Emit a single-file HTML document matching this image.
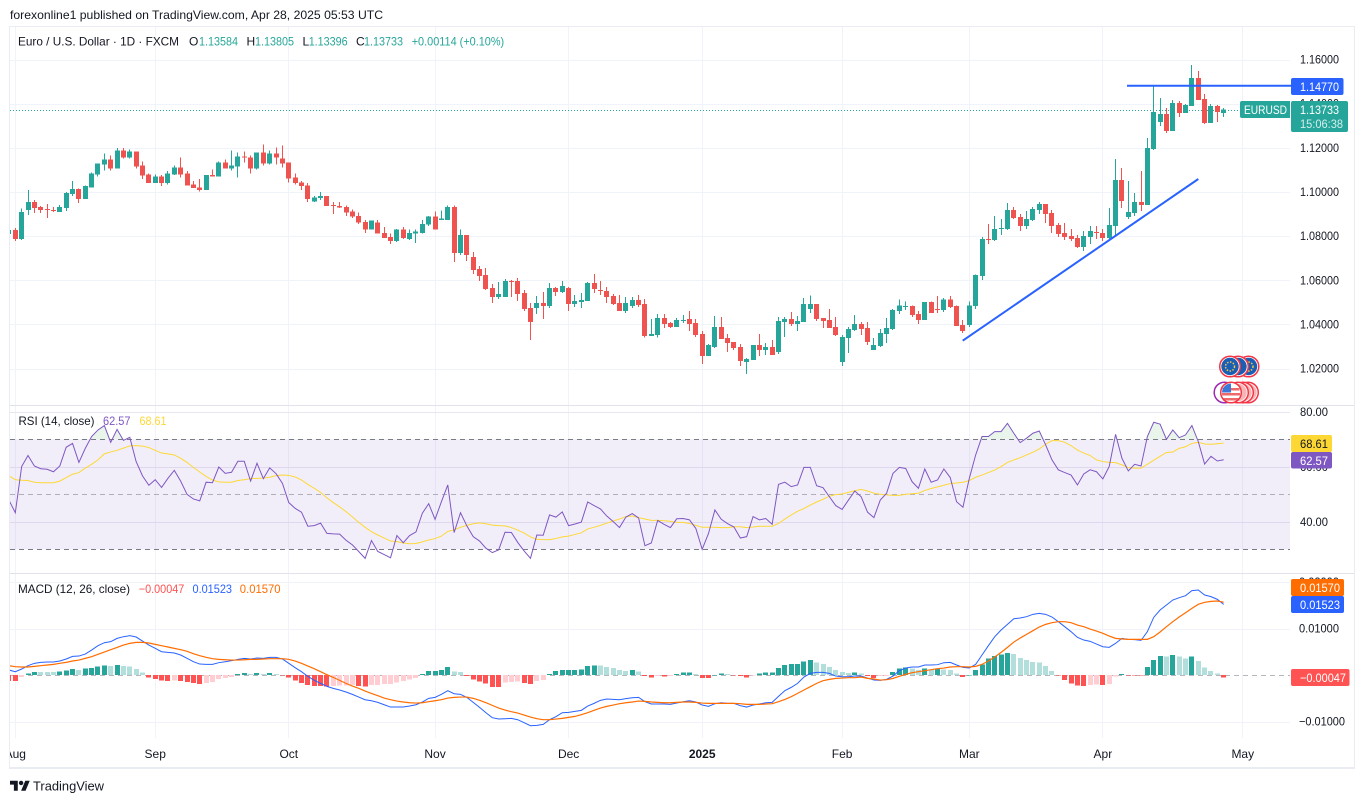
<!DOCTYPE html>
<html lang="en">
<head>
<meta charset="utf-8">
<title>EUR/USD chart</title>
<style>
html,body{margin:0;padding:0;background:#fff;width:1364px;height:803px;overflow:hidden}
svg{display:block;font-family:"Liberation Sans",sans-serif}
text{font-size:12px;fill:#131722}
</style>
</head>
<body>
<svg id="chart" width="1364" height="803" viewBox="0 0 1364 803" xmlns="http://www.w3.org/2000/svg">
  <defs>
    <clipPath id="plot-clip"><rect x="10" y="27" width="1280" height="712"/></clipPath>
    <clipPath id="time-clip"><rect x="10" y="740" width="1344" height="27"/></clipPath>
    <clipPath id="over-clip"><rect x="10" y="406" width="1280" height="33.3"/></clipPath>
  </defs>
  <rect x="0" y="0" width="1364" height="803" fill="#ffffff"/>
  <text x="10" y="19" textLength="373" lengthAdjust="spacingAndGlyphs">forexonline1 published on TradingView.com, Apr 28, 2025 05:53 UTC</text>
  <g id="grid-layer"></g>
  <rect x="10" y="439.3" width="1280" height="110" fill="#7e57c2" fill-opacity="0.1"/>
  <g id="mark-layer" clip-path="url(#plot-clip)"></g>
  <line x1="1127" y1="85.8" x2="1291" y2="85.8" stroke="#2962ff" stroke-width="2"/>
  <line x1="962.7" y1="340.7" x2="1198.3" y2="179" stroke="#2962ff" stroke-width="2"/>
  <g id="frame-layer" shape-rendering="crispEdges">
    <rect x="9" y="26" width="1346" height="1" fill="#e9ecf2"/>
    <rect x="9" y="26" width="1" height="743" fill="#e9ecf2"/>
    <rect x="1354" y="26" width="1" height="743" fill="#e9ecf2"/>
    <rect x="9" y="767" width="1346" height="2" fill="#e9ecf2"/>
    <rect x="10" y="405" width="1344" height="1" fill="#e0e3eb"/>
    <rect x="10" y="573" width="1344" height="1" fill="#e0e3eb"/>
  </g>
  <g id="axis-layer"></g>

  <g>
    <text x="18" y="45.500" textLength="161" lengthAdjust="spacingAndGlyphs">Euro / U.S. Dollar · 1D · FXCM</text>
    <text x="189" y="45.500">O</text>
    <text x="199" y="45.500" textLength="39" lengthAdjust="spacingAndGlyphs" style="fill:#26a69a">1.13584</text>
    <text x="246.500" y="45.500">H</text>
    <text x="255" y="45.500" textLength="39" lengthAdjust="spacingAndGlyphs" style="fill:#26a69a">1.13805</text>
    <text x="302.500" y="45.500">L</text>
    <text x="308.700" y="45.500" textLength="39" lengthAdjust="spacingAndGlyphs" style="fill:#26a69a">1.13396</text>
    <text x="356" y="45.500">C</text>
    <text x="364" y="45.500" textLength="39" lengthAdjust="spacingAndGlyphs" style="fill:#26a69a">1.13733</text>
    <text x="411.700" y="45.500" textLength="92.500" lengthAdjust="spacingAndGlyphs" style="fill:#26a69a">+0.00114 (+0.10%)</text>
  </g>
  <g>
    <text x="18.500" y="425" textLength="76" lengthAdjust="spacingAndGlyphs">RSI (14, close)</text>
    <text x="103" y="425" textLength="27.500" lengthAdjust="spacingAndGlyphs" style="fill:#7e57c2">62.57</text>
    <text x="139.500" y="425" textLength="27" lengthAdjust="spacingAndGlyphs" style="fill:#fdd835">68.61</text>
  </g>
  <g>
    <text x="18" y="593" textLength="112" lengthAdjust="spacingAndGlyphs">MACD (12, 26, close)</text>
    <text x="138.800" y="593" textLength="45.500" lengthAdjust="spacingAndGlyphs" style="fill:#ff5252">−0.00047</text>
    <text x="192.500" y="593" textLength="39.500" lengthAdjust="spacingAndGlyphs" style="fill:#2962ff">0.01523</text>
    <text x="239.800" y="593" textLength="40.800" lengthAdjust="spacingAndGlyphs" style="fill:#ff6d00">0.01570</text>
  </g>

  <g>
    <rect x="1291" y="78" width="52.500" height="17" rx="2" fill="#2962ff"/>
    <text x="1300" y="91" textLength="39" lengthAdjust="spacingAndGlyphs" style="fill:#fff">1.14770</text>
    <path d="M1242 101H1290V118H1242a2 2 0 0 1-2-2V103a2 2 0 0 1 2-2z" fill="#26a69a"/>
    <text x="1244" y="114" textLength="43" lengthAdjust="spacingAndGlyphs" style="fill:#fff">EURUSD</text>
    <rect x="1291" y="101" width="57" height="31" rx="2" fill="#26a69a"/>
    <text x="1300" y="114" textLength="39" lengthAdjust="spacingAndGlyphs" style="fill:#fff">1.13733</text>
    <text x="1300" y="128" textLength="43" lengthAdjust="spacingAndGlyphs" style="fill:#d4eeeb">15:06:38</text>
    <rect x="1291" y="435" width="41" height="17" rx="2" fill="#fdd835"/>
    <text x="1300" y="448" textLength="28" lengthAdjust="spacingAndGlyphs">68.61</text>
    <rect x="1291" y="452" width="41" height="16.500" rx="2" fill="#7e57c2"/>
    <text x="1300" y="465" textLength="28" lengthAdjust="spacingAndGlyphs" style="fill:#fff">62.57</text>
    <rect x="1291" y="579" width="53" height="17" rx="2" fill="#ff6d00"/>
    <text x="1300" y="592" textLength="40" lengthAdjust="spacingAndGlyphs" style="fill:#fff">0.01570</text>
    <rect x="1291" y="596" width="53" height="17" rx="2" fill="#2962ff"/>
    <text x="1300" y="609" textLength="40" lengthAdjust="spacingAndGlyphs" style="fill:#fff">0.01523</text>
    <rect x="1291" y="669" width="58.500" height="17" rx="2" fill="#ff5252"/>
    <text x="1300" y="682" textLength="46" lengthAdjust="spacingAndGlyphs" style="fill:#fff">−0.00047</text>
  </g>

  <g>
    <g><circle cx="1248.500" cy="366.500" r="9.700" fill="#1a5fb4" stroke="#fff" stroke-width="2"/><circle cx="1248.500" cy="366.500" r="10.300" fill="none" stroke="#f23645" stroke-width="1.500"/><circle cx="1248.500" cy="366.500" r="4.500" fill="none" stroke="#f6c445" stroke-width="1.500" stroke-dasharray="1.500 1.500"/></g>
    <g><circle cx="1238" cy="366.500" r="9.700" fill="#1a5fb4" stroke="#fff" stroke-width="2"/><circle cx="1238" cy="366.500" r="10.300" fill="none" stroke="#f23645" stroke-width="1.500"/></g>
    <g><circle cx="1230" cy="366.500" r="9.700" fill="#1a5fb4" stroke="#fff" stroke-width="2"/><circle cx="1230" cy="366.500" r="10.300" fill="none" stroke="#f23645" stroke-width="1.500"/><circle cx="1230" cy="366.500" r="4.500" fill="none" stroke="#f6c445" stroke-width="1.500" stroke-dasharray="1.500 1.500"/></g>
  </g>
  <g>
    <g><circle cx="1248" cy="392.500" r="9.700" fill="#f7b5b5" stroke="#fff" stroke-width="2"/><circle cx="1248" cy="392.500" r="10.300" fill="none" stroke="#f23645" stroke-width="1.500"/></g>
    <g><circle cx="1243" cy="392.500" r="9.700" fill="#f7b5b5" stroke="#fff" stroke-width="2"/><circle cx="1243" cy="392.500" r="10.300" fill="none" stroke="#f23645" stroke-width="1.500"/></g>
    <g><circle cx="1238" cy="392.500" r="9.700" fill="#f7b5b5" stroke="#fff" stroke-width="2"/><circle cx="1238" cy="392.500" r="10.300" fill="none" stroke="#f23645" stroke-width="1.500"/></g>
    <g><circle cx="1224.500" cy="392.500" r="10.300" fill="#fff" stroke="#9c27b0" stroke-width="1.500"/></g>
    <g>
      <circle cx="1231" cy="392.500" r="9.700" fill="#fff" stroke="#fff" stroke-width="2"/>
      <rect x="1222.500" y="388" width="17" height="2.500" fill="#ee6a6a"/>
      <rect x="1222" y="393" width="18" height="2.500" fill="#ee6a6a"/>
      <rect x="1223" y="398" width="16" height="2.500" fill="#ee6a6a"/>
      <path d="M1222 392.500a9 9 0 0 1 9-9v9z" fill="#3b78d8"/>
      <circle cx="1231" cy="392.500" r="10.300" fill="none" stroke="#f23645" stroke-width="1.500"/>
    </g>
  </g>

  <svg x="10" y="778.500" width="20" height="15.600" viewBox="0 0 36 28"><path d="M14 22H7V11H0V4h14v18zM28 22h-8l7.500-18h8L28 22z" fill="#131722"/><circle cx="20" cy="8" r="4" fill="#131722"/></svg>
  <text x="33" y="790.500" textLength="71" lengthAdjust="spacingAndGlyphs" style="font-size:13px">TradingView</text>
</svg>
<script>
// ---- data ----
const timeLabels = ['Aug','Sep','Oct','Nov','Dec','2025','Feb','Mar','Apr','May'];
const timeBars = [1,23,44,67,88,109,131,151,172,194];
const priceTicks = [1.16,1.14,1.12,1.10,1.08,1.06,1.04,1.02];
const rsiTicks = [80,60,40];
const rsiLevels = [70,50,30];
const macdTicks = [0.02,0.01,-0.01];
const lastClose = 1.13733;

const opens = [1.0810,1.0828,1.0788,1.0918,1.0954,1.0932,1.0923,1.0918,1.0909,1.0927,1.0990,1.1013,1.0968,1.1021,1.1080,1.1125,1.1148,1.1107,1.1188,1.1156,1.1183,1.1120,1.1080,1.1040,1.1071,1.1040,1.1080,1.1112,1.1084,1.1035,1.1021,1.1008,1.1076,1.1071,1.1134,1.1107,1.1116,1.1161,1.1156,1.1107,1.1179,1.1130,1.1175,1.1152,1.1134,1.1066,1.1044,1.1030,1.0958,1.0972,1.0981,1.0940,1.0936,
1.0933,1.0911,1.0892,1.0865,1.0829,1.0861,1.0815,1.0797,1.0779,1.0829,1.0788,1.0811,1.0815,1.0852,1.0888,1.0874,1.0874,1.0933,1.0724,1.0806,1.0706,1.0652,1.0624,1.0565,1.0524,1.0524,1.0597,1.0597,1.0542,1.0474,1.0474,1.0497,1.0483,1.0565,1.0547,1.0565,1.0492,1.0502,1.0506,1.0588,1.0556,1.0552,1.0529,1.0497,1.0461,1.0483,1.0511,1.0492,1.0347,1.0352,1.0429,1.0406,1.0388,
1.0415,1.0424,1.0406,1.0356,1.0257,1.0298,1.0388,1.0338,1.0320,1.0298,1.0230,1.0239,1.0307,1.0284,1.0298,1.0275,1.0411,1.0424,1.0402,1.0411,1.0469,1.0492,1.0429,1.0420,1.0388,1.0230,1.0338,1.0374,1.0402,1.0384,1.0284,1.0302,1.0356,1.0379,1.0460,1.0478,1.0483,1.0447,1.0420,1.0501,1.0469,1.0465,1.0514,1.0483,1.0397,1.0397,1.0483,
1.0619,1.0787,1.0782,1.0832,1.0832,1.0918,1.0886,1.0845,1.0873,1.0918,1.0945,1.0904,1.0850,1.0814,1.0800,1.0791,1.0750,1.0796,1.0818,1.0814,1.0791,1.0845,1.1054,1.0886,1.0904,1.0954,1.0940,1.1194,1.1317,1.1353,1.1276,1.1403,1.1357,1.1389,1.1516,1.1421,1.1312,1.1389,1.13584];
const highs = [1.0828,1.0836,1.0926,1.1008,1.0963,1.0936,1.0945,1.0932,1.0941,1.0999,1.1049,1.1015,1.1030,1.1089,1.1130,1.1175,1.1165,1.1200,1.1200,1.1192,1.1183,1.1138,1.1084,1.1080,1.1076,1.1094,1.1120,1.1156,1.1094,1.1049,1.1058,1.1076,1.1102,1.1137,1.1148,1.1188,1.1179,1.1183,1.1165,1.1179,1.1215,1.1188,1.1201,1.1210,1.1134,1.1084,1.1049,1.1040,1.0981,1.0999,1.0981,1.0954,1.0954,
1.0938,1.0920,1.0906,1.0874,1.0870,1.0874,1.0842,1.0811,1.0833,1.0842,1.0829,1.0829,1.0874,1.0892,1.0911,1.0915,1.0938,1.0938,1.0829,1.0806,1.0729,1.0665,1.0656,1.0583,1.0592,1.0606,1.0602,1.0611,1.0556,1.0497,1.0529,1.0547,1.0588,1.0570,1.0597,1.0570,1.0533,1.0542,1.0592,1.0629,1.0597,1.0570,1.0538,1.0533,1.0524,1.0524,1.0533,1.0515,1.0424,1.0447,1.0447,1.0411,1.0429,
1.0442,1.0460,1.0424,1.0370,1.0311,1.0438,1.0433,1.0356,1.0320,1.0311,1.0248,1.0307,1.0356,1.0316,1.0329,1.0433,1.0433,1.0456,1.0438,1.0519,1.0532,1.0492,1.0429,1.0469,1.0433,1.0352,1.0388,1.0442,1.0411,1.0411,1.0338,1.0379,1.0429,1.0469,1.0514,1.0505,1.0487,1.0460,1.0501,1.0505,1.0528,1.0519,1.0528,1.0487,1.0420,1.0505,1.0627,
1.0796,1.0854,1.0891,1.0877,1.0950,1.0931,1.0900,1.0913,1.0931,1.0954,1.0945,1.0918,1.0859,1.0859,1.0832,1.0805,1.0823,1.0845,1.0845,1.0832,1.0927,1.1149,1.1108,1.1049,1.0995,1.1095,1.1244,1.1480,1.1425,1.1380,1.1416,1.1412,1.1398,1.1575,1.1548,1.1443,1.1398,1.1393,1.13805];
const lows = [1.0810,1.0779,1.0783,1.0896,1.0905,1.0905,1.0882,1.0909,1.0909,1.0914,1.0981,1.0950,1.0968,1.1021,1.1071,1.1098,1.1098,1.1107,1.1152,1.1152,1.1107,1.1058,1.1040,1.1040,1.1026,1.1035,1.1076,1.1066,1.1030,1.1017,1.1003,1.1008,1.1071,1.1071,1.1107,1.1098,1.1066,1.1134,1.1084,1.1102,1.1120,1.1125,1.1125,1.1112,1.1044,1.1035,1.1008,1.0954,1.0954,1.0963,1.0936,1.0900,1.0927,
1.0892,1.0883,1.0856,1.0815,1.0829,1.0811,1.0792,1.0765,1.0774,1.0788,1.0783,1.0770,1.0811,1.0847,1.0829,1.0874,1.0874,1.0683,1.0715,1.0688,1.0629,1.0597,1.0556,1.0497,1.0515,1.0524,1.0524,1.0506,1.0461,1.0329,1.0447,1.0424,1.0474,1.0529,1.0542,1.0461,1.0479,1.0474,1.0506,1.0542,1.0533,1.0497,1.0488,1.0461,1.0452,1.0474,1.0479,1.0342,1.0347,1.0342,1.0383,1.0383,1.0388,
1.0406,1.0370,1.0343,1.0221,1.0257,1.0293,1.0334,1.0275,1.0284,1.0212,1.0176,1.0239,1.0257,1.0262,1.0262,1.0266,1.0343,1.0393,1.0370,1.0411,1.0451,1.0415,1.0384,1.0384,1.0347,1.0212,1.0271,1.0370,1.0352,1.0307,1.0284,1.0298,1.0316,1.0374,1.0447,1.0465,1.0433,1.0402,1.0420,1.0451,1.0451,1.0456,1.0474,1.0393,1.0361,1.0388,1.0469,
1.0601,1.0764,1.0777,1.0805,1.0827,1.0877,1.0823,1.0832,1.0868,1.0900,1.0859,1.0814,1.0796,1.0782,1.0777,1.0746,1.0732,1.0764,1.0787,1.0777,1.0787,1.0805,1.0927,1.0877,1.0891,1.0913,1.0940,1.1190,1.1298,1.1267,1.1276,1.1339,1.1357,1.1389,1.1416,1.1307,1.1312,1.1316,1.13396];
const closes = [1.0828,1.0788,1.0909,1.0954,1.0927,1.0918,1.0920,1.0914,1.0932,1.0995,1.1013,1.0968,1.1026,1.1084,1.1130,1.1148,1.1107,1.1188,1.1156,1.1183,1.1116,1.1075,1.1040,1.1071,1.1040,1.1084,1.1112,1.1080,1.1030,1.1017,1.1008,1.1076,1.1071,1.1134,1.1107,1.1120,1.1161,1.1156,1.1107,1.1179,1.1130,1.1175,1.1156,1.1130,1.1062,1.1040,1.1026,1.0968,1.0976,1.0981,1.0936,1.0936,1.0930,
1.0906,1.0888,1.0861,1.0829,1.0870,1.0811,1.0792,1.0779,1.0829,1.0792,1.0815,1.0820,1.0856,1.0888,1.0829,1.0879,1.0933,1.0724,1.0806,1.0715,1.0647,1.0620,1.0561,1.0524,1.0538,1.0597,1.0592,1.0538,1.0470,1.0411,1.0497,1.0483,1.0565,1.0547,1.0574,1.0492,1.0506,1.0511,1.0588,1.0561,1.0552,1.0524,1.0492,1.0461,1.0497,1.0511,1.0488,1.0347,1.0356,1.0429,1.0402,1.0388,1.0420,
1.0420,1.0402,1.0352,1.0257,1.0307,1.0388,1.0334,1.0316,1.0293,1.0234,1.0244,1.0307,1.0284,1.0298,1.0262,1.0415,1.0424,1.0402,1.0415,1.0492,1.0492,1.0424,1.0415,1.0384,1.0352,1.0343,1.0379,1.0402,1.0379,1.0320,1.0307,1.0361,1.0384,1.0465,1.0487,1.0483,1.0442,1.0420,1.0501,1.0451,1.0465,1.0514,1.0478,1.0393,1.0370,1.0487,1.0623,
1.0787,1.0782,1.0832,1.0836,1.0918,1.0882,1.0845,1.0877,1.0922,1.0945,1.0900,1.0845,1.0809,1.0796,1.0787,1.0750,1.0800,1.0823,1.0814,1.0791,1.0850,1.1054,1.0959,1.0909,1.0954,1.0940,1.1199,1.1362,1.1353,1.1276,1.1403,1.1357,1.1393,1.1516,1.1416,1.1312,1.1389,1.1362,1.13733];

const rsiValues = [47.9,43.3,60.1,64.1,60.3,59.3,59.1,58.2,60.3,67.1,68.5,61.6,66.7,71.0,73.4,75.0,68.9,73.6,69.6,70.7,61.9,56.7,53.3,55.3,52.5,55.8,58.7,54.8,50.0,48.3,47.6,54.4,54.2,59.9,57.6,58.0,62.0,62.0,54.8,61.3,55.7,59.6,57.5,54.0,47.0,44.9,43.5,38.4,38.6,39.5,35.8,35.6,35.5,33.3,31.6,29.2,26.7,33.2,29.2,28.1,26.9,35.0,32.4,35.0,36.3,43.1,46.6,40.9,47.3,53.4,36.1,43.3,38.5,34.6,33.0,30.4,28.8,29.8,36.2,36.1,32.5,29.4,26.7,35.2,35.1,42.5,41.7,43.6,38.6,39.2,39.9,47.2,45.9,44.7,42.1,40.1,37.9,41.7,43.0,41.4,31.3,32.3,40.5,39.1,37.9,41.1,
41.2,40.7,37.6,30.0,35.8,44.3,40.9,39.3,38.1,34.1,34.6,41.9,40.7,41.2,39.1,53.6,54.4,52.8,53.4,59.8,59.8,53.1,52.4,49.1,45.9,44.5,47.9,51.2,49.1,43.5,41.5,47.9,50.4,57.6,59.8,59.4,54.6,52.2,59.2,54.4,55.2,59.2,56.1,47.3,45.3,55.8,64.3,71.0,71.0,72.8,72.8,75.8,72.2,68.8,70.4,72.2,73.0,68.0,62.5,58.9,57.9,57.0,53.4,57.4,58.9,58.2,55.6,60.1,71.8,63.1,58.5,60.9,60.3,71.0,76.2,75.5,70.0,73.4,70.6,71.6,75.0,69.2,61.0,63.8,62.1,62.57];
const rsiMaValues = [56.7,55.3,55.1,55.0,54.4,54.2,54.2,54.2,54.8,56.1,57.3,57.9,59.5,60.9,62.5,64.7,65.4,66.0,66.8,67.6,67.7,67.5,67.0,66.0,65.0,64.7,64.3,63.1,61.6,59.8,58.1,56.5,55.2,54.5,54.4,54.4,55.0,55.3,55.7,55.8,55.9,56.2,56.8,57.0,56.9,56.3,55.2,53.6,52.2,50.7,48.7,47.0,45.4,43.7,41.8,39.8,38.0,36.4,35.2,34.1,33.0,32.8,32.3,32.0,32.1,32.7,33.4,33.9,34.8,36.5,37.1,38.0,38.7,39.3,39.6,39.3,38.8,38.6,38.5,37.9,37.0,35.9,34.5,33.6,33.5,33.5,33.9,34.5,34.8,35.4,36.0,37.4,38.0,38.7,39.5,40.3,41.0,41.9,42.1,41.5,41.0,40.5,40.5,40.4,40.2,39.8,
39.8,39.4,38.7,38.0,38.0,38.0,37.9,37.9,38.2,38.2,37.9,38.1,38.4,38.4,38.4,39.4,41.0,42.5,43.8,44.8,46.1,47.2,48.2,49.3,49.9,50.1,50.7,51.3,51.8,51.2,50.4,50.0,49.8,49.6,49.6,50.0,50.2,50.4,51.4,52.1,52.7,53.3,53.9,54.1,54.4,55.0,56.2,57.0,57.9,58.8,60.1,61.6,62.5,63.3,64.3,65.3,66.5,68.2,69.5,69.5,68.9,67.7,66.1,65.0,64.1,62.5,61.9,61.6,61.5,60.7,59.7,59.5,59.5,60.9,62.4,63.8,65.2,65.4,66.7,67.3,68.5,68.9,68.3,68.2,68.4,68.61];

// MACD series are in FX points (1 point = 0.00001)
const macdLine = [111,75,133,204,255,276,283,283,305,348,405,412,455,541,635,699,721,792,828,850,821,735,649,577,505,491,477,434,362,290,240,233,233,269,290,312,341,362,348,369,362,384,384,348,255,161,75,-25,-111,-176,-240,-283,-319,-362,-412,-470,-527,-549,-584,-635,-685,-685,-685,-663,-635,-577,-498,-477,-412,-333,-398,-412,-477,-584,-692,-807,-914,-943,-936,-929,-957,-1022,-1086,-1079,-1058,-957,-893,-807,-799,-778,-756,-663,-606,-541,-513,-520,-527,-505,-484,-477,-570,-620,-620,-620,-627,-599,
-570,-549,-577,-642,-670,-613,-592,-606,-606,-656,-685,-642,-620,-592,-584,-455,-333,-262,-176,-39,39,61,61,39,-18,-32,-32,-18,-18,-61,-104,-111,-90,-18,97,154,176,176,219,219,226,269,276,219,168,154,233,434,635,828,972,1093,1215,1230,1258,1309,1330,1309,1251,1151,1043,936,814,756,728,670,613,599,685,792,771,764,749,936,1244,1402,1509,1617,1667,1710,1818,1832,1724,1689,1631,1523];
const signalLine = [204,183,176,176,190,204,219,233,255,276,305,326,362,398,448,498,549,598,649,685,706,706,692,663,635,606,577,549,513,462,419,384,355,341,333,326,326,333,341,341,348,355,355,355,341,305,255,197,140,75,11,-47,-111,-176,-233,-283,-341,-391,-441,-491,-527,-556,-577,-592,-599,-592,-570,-549,-527,-491,-477,-470,-470,-498,-541,-592,-649,-706,-749,-785,-814,-857,-900,-936,-957,-957,-943,-929,-907,-886,-850,-807,-756,-706,-670,-642,-613,-592,-577,-556,-563,-577,-584,-592,-592,-584,
-577,-577,-584,-599,-606,-606,-606,-606,-606,-613,-627,-627,-627,-620,-613,-570,-520,-462,-391,-319,-247,-176,-118,-90,-68,-61,-54,-54,-39,-68,-82,-104,-97,-68,-25,18,54,75,97,118,140,154,176,183,183,176,190,233,305,391,491,599,713,799,878,957,1036,1093,1129,1151,1151,1129,1079,1043,993,950,900,842,792,778,771,771,771,771,828,929,1043,1151,1251,1344,1438,1524,1567,1588,1595,1570];
const histValues = [-129,-129,-43,36,72,72,70,68,79,100,129,115,143,158,186,208,194,215,194,190,129,57,-50,-86,-115,-122,-115,-122,-143,-172,-186,-172,-143,-79,-65,-36,29,50,29,50,29,50,22,-3,-50,-115,-165,-215,-229,-237,-244,-237,-222,-220,-215,-237,-239,-215,-208,-194,-186,-158,-129,-93,-65,22,93,95,108,179,79,72,-14,-93,-136,-179,-251,-253,-158,-143,-136,-172,-186,-129,-100,29,93,108,111,113,122,194,208,204,172,151,108,93,115,79,-14,-50,-22,-29,-22,22,
57,60,22,-57,-60,7,36,29,-7,-22,-50,-7,36,57,60,158,215,237,244,294,323,272,244,179,108,65,50,57,36,-14,-57,-22,-18,72,143,165,143,108,143,122,143,122,115,36,-36,0,115,229,358,409,445,480,452,366,323,287,272,201,86,-4,-100,-179,-225,-232,-208,-204,-215,-186,-29,29,-7,-8,-9,172,330,409,402,437,402,358,402,308,165,93,36,-47];

// ---- axis functions ----
const SVG_NS = 'http://www.w3.org/2000/svg';
const xOf = i => 15.3 + (i - 1) * 6.36;
const yPrice = p => 59.5 + (1.16 - p) * 2208;
const yRsi = v => 549.3 - (v - 30) * 2.75;
const yMacd = v => 675.2 - v * 4650;
const yPoints = v => yMacd(v / 100000);

const gridLayer = document.getElementById('grid-layer');
const markLayer = document.getElementById('mark-layer');
const axisLayer = document.getElementById('axis-layer');

function make(tag, parent, attrs) {
  const el = document.createElementNS(SVG_NS, tag);
  for (const k in attrs) el.setAttribute(k, attrs[k]);
  parent.appendChild(el);
  return el;
}
function pointsOf(values, yFn) {
  return values.map((v, i) => xOf(i).toFixed(2) + ',' + yFn(v).toFixed(2)).join(' ');
}
function fmtMacd(v) {
  return (v < 0 ? '\u2212' : '') + Math.abs(v).toFixed(5);
}

// vertical grid and time labels
const timeClip = make('g', axisLayer, {'clip-path': 'url(#time-clip)'});


timeBars.forEach((bar, k) => {
  const x = Math.floor(xOf(bar)) + 0.5;
  const line = make('line', gridLayer, {x1: x, x2: x, y1: 27, y2: 738, stroke: '#f0f3fa', 'shape-rendering': 'crispEdges'});
  
  
  const t = make('text', timeClip, {x: xOf(bar), y: 758, 'text-anchor': 'middle'});
  t.textContent = timeLabels[k];
  if (timeLabels[k] === '2025') t.setAttribute('font-weight', 'bold');
  
  
});

// price axis
priceTicks.forEach(p => {
  const y = Math.round(yPrice(p)) + 0.5;
  const line = make('line', gridLayer, {x1: 10, x2: 1290, y1: y, y2: y, stroke: '#f0f3fa', 'shape-rendering': 'crispEdges'});
  
  
  const t = make('text', axisLayer, {x: 1300, y: yPrice(p) + 4, textLength: 39, lengthAdjust: 'spacingAndGlyphs'});
  t.textContent = p.toFixed(5);
  
  
});

// RSI axis
rsiTicks.forEach(v => {
  const y = Math.round(yRsi(v)) + 0.5;
  const line = make('line', gridLayer, {x1: 10, x2: 1290, y1: y, y2: y, stroke: '#e9e6f2', 'shape-rendering': 'crispEdges'});
  
  
  const t = make('text', axisLayer, {x: 1300, y: yRsi(v) + 4, textLength: 28, lengthAdjust: 'spacingAndGlyphs'});
  t.textContent = v.toFixed(2);
  
  
});

// MACD axis
macdTicks.forEach(v => {
  const y = Math.round(yMacd(v)) + 0.5;
  const line = make('line', gridLayer, {x1: 10, x2: 1290, y1: y, y2: y, stroke: '#f0f3fa', 'shape-rendering': 'crispEdges'});
  
  
  const t = make('text', axisLayer, {x: 1299, y: yMacd(v) + 4, textLength: v < 0 ? 46 : 40, lengthAdjust: 'spacingAndGlyphs'});
  t.textContent = fmtMacd(v);
  
  
});

// last price line
const lastY = Math.round(yPrice(lastClose)) + 0.5;
const lastLine = make('line', markLayer, {x1: 10, x2: 1240, y1: lastY, y2: lastY, stroke: '#26a69a', 'stroke-dasharray': '1 2', 'shape-rendering': 'crispEdges'});



// candles
closes.forEach((c, i) => {
  const o = opens[i];
  const col = c >= o ? '#26a69a' : '#ef5350';
  const cx = Math.floor(xOf(i));
  const top = yPrice(Math.max(o, c));
  const bot = yPrice(Math.min(o, c));
  const wick = make('rect', markLayer, {x: cx, y: yPrice(highs[i]), width: 1, height: Math.max(1, yPrice(lows[i]) - yPrice(highs[i])), fill: col, 'shape-rendering': 'crispEdges'});
  
  
  const body = make('rect', markLayer, {x: cx - 2, y: top, width: 5, height: Math.max(1, bot - top), fill: col, 'shape-rendering': 'crispEdges'});
  
  
});

// RSI levels
rsiLevels.forEach(v => {
  const y = Math.round(yRsi(v)) + 0.5;
  const line = make('line', markLayer, {x1: 10, x2: 1290, y1: y, y2: y, stroke: '#787b86', 'stroke-dasharray': '5 4', 'stroke-opacity': v === 50 ? 0.55 : 1, 'shape-rendering': 'crispEdges'});
  
  
});

// RSI overbought fill
const overPoints = pointsOf(rsiValues, yRsi);
const overArea = make('polygon', markLayer, {points: xOf(0) + ',' + yRsi(70) + ' ' + overPoints + ' ' + xOf(rsiValues.length - 1) + ',' + yRsi(70), fill: '#4caf50', 'fill-opacity': 0.12, 'clip-path': 'url(#over-clip)'});



const rsiMaPath = make('polyline', markLayer, {points: pointsOf(rsiMaValues, yRsi), fill: 'none', stroke: '#fdd835', 'stroke-width': 1});


const rsiPath = make('polyline', markLayer, {points: overPoints, fill: 'none', stroke: '#7e57c2', 'stroke-width': 1});



// MACD histogram
const zeroY = Math.round(yPoints(0)) + 0.5;
const zeroLine = make('line', markLayer, {x1: 10, x2: 1290, y1: zeroY, y2: zeroY, stroke: '#787b86', 'stroke-dasharray': '5 4', 'stroke-opacity': 0.55, 'shape-rendering': 'crispEdges'});


histValues.forEach((v, i) => {
  const prev = i > 0 ? histValues[i - 1] : v;
  const col = v >= 0 ? (v > prev ? '#26a69a' : '#b2dfdb') : (v > prev ? '#ffcdd2' : '#ff5252');
  const yA = yPoints(Math.max(v, 0));
  const yB = yPoints(Math.min(v, 0));
  const bar = make('rect', markLayer, {x: Math.floor(xOf(i)) - 2, y: yA, width: 5, height: Math.max(yB - yA, 0.5), fill: col, 'shape-rendering': 'crispEdges'});
  
  
});
const macdPath = make('polyline', markLayer, {points: pointsOf(macdLine, yPoints), fill: 'none', stroke: '#2962ff', 'stroke-width': 1});


const signalPath = make('polyline', markLayer, {points: pointsOf(signalLine, yPoints), fill: 'none', stroke: '#ff6d00', 'stroke-width': 1.2});


</script>
</body>
</html>
